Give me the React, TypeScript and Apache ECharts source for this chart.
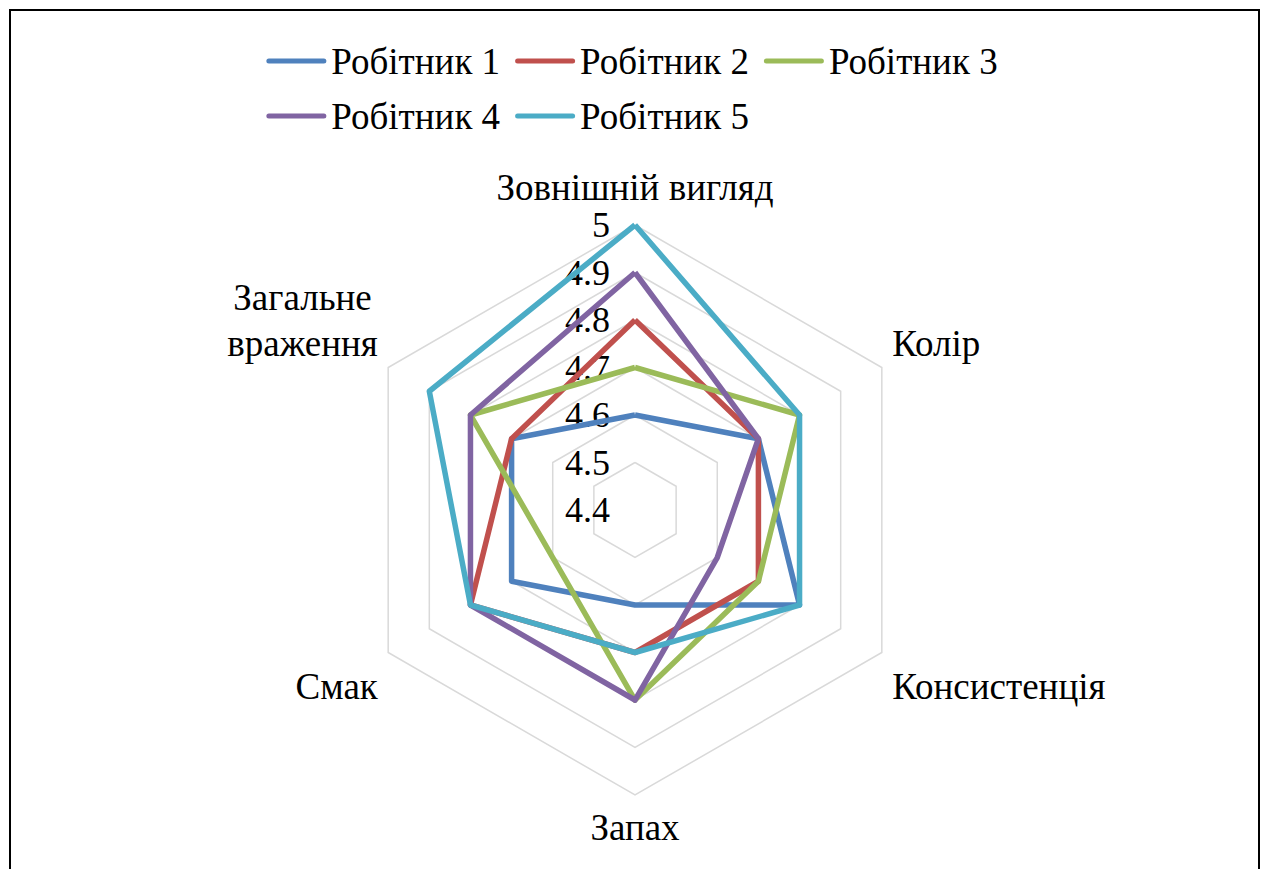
import React, { useEffect, useRef } from "react";
import * as echarts from "echarts";

const categories = [
  "Зовнішній вигляд",
  "Колір",
  "Консистенція",
  "Запах",
  "Смак",
  "Загальне\nвраження",
];
const seriesNames = ["Робітник 1", "Робітник 2", "Робітник 3", "Робітник 4", "Робітник 5"];
const worker1 = [4.6, 4.7, 4.8, 4.6, 4.7, 4.7];
const worker2 = [4.8, 4.7, 4.7, 4.7, 4.8, 4.7];
const worker3 = [4.7, 4.8, 4.7, 4.8, 4.6, 4.8];
const worker4 = [4.9, 4.7, 4.6, 4.8, 4.8, 4.8];
const worker5 = [5.0, 4.8, 4.8, 4.7, 4.8, 4.9];
const tickLabels = ["4.4", "4.5", "4.6", "4.7", "4.8", "4.9", "5"];
const colors = ["#4f81bd", "#c0504d", "#9bbb59", "#8064a2", "#4bacc6"];

const AXIS_MIN = 4.4;
const AXIS_MAX = 5;
const STEP = 0.1;

// label padding (layout only) per category, natural order
const namePad = [
  [0, 0, 7, 0],
  [0, 0, 37, 0],
  [55, 0, 0, 0],
  [2, 0, 0, 0],
  [55, 0, 0, 0],
  [0, 0, 0, 0],
];

export default function App() {
  const ref = useRef<HTMLDivElement>(null);
  useEffect(() => {
    if (!ref.current) return;
    const chart = echarts.init(ref.current, null, { renderer: "svg" });
    // ECharts radar places indicators counter-clockwise; reorder to get clockwise layout
    const order = [0, 5, 4, 3, 2, 1];
    const all = [worker1, worker2, worker3, worker4, worker5];
    const font = "'Liberation Serif', 'Times New Roman', serif";
    const fs = 36;
    const lfs = 37;
    const nfs = 37;
    const rich: Record<string, any> = {
      c: { align: "center", fontSize: nfs, fontFamily: font, color: "#000", lineHeight: 46 },
      sp: { fontSize: 10, fontFamily: font, lineHeight: 83, height: 83 },
    };
    namePad.forEach((p, i) => {
      rich["p" + i] = {
        align: "center",
        fontSize: nfs,
        fontFamily: font,
        color: "#000",
        padding: p,
      };
    });
    chart.setOption({
      animation: false,
      backgroundColor: "#fff",
      color: colors,
      graphic: [
        {
          type: "rect",
          shape: { x: 10, y: 10, width: 1249, height: 900 },
          style: { fill: "none", stroke: "#000", lineWidth: 2 },
          silent: true,
        },
      ],
      legend: {
        data: seriesNames,
        left: "center",
        top: 36,
        width: 800,
        itemWidth: 60,
        itemHeight: 5,
        itemGap: 15,
        icon: "path://M2.5,0 L57.5,0 A2.5,2.5 0 0 1 57.5,5 L2.5,5 A2.5,2.5 0 0 1 2.5,0 Z",
        textStyle: { fontSize: lfs, fontFamily: font, color: "#000", lineHeight: 40 },
      },
      radar: {
        center: [635, 510],
        radius: 285,
        startAngle: 90,
        splitNumber: 6,
        shape: "polygon",
        nameGap: 12,
        indicator: order.map((i) => ({ name: categories[i], min: AXIS_MIN, max: AXIS_MAX })),
        axisName: {
          color: "#000",
          fontFamily: font,
          fontSize: nfs,
          formatter: (name: string) => {
            const idx = categories.indexOf(name);
            const lines = name.split("\n");
            if (lines.length > 1) {
              return lines.map((s) => `{c|${s}}`).join("\n") + "\n{sp| }";
            }
            return `{p${idx}|${name}}`;
          },
          rich,
        },
        splitLine: { lineStyle: { color: "#d9d9d9", width: 1.5 } },
        splitArea: { show: false },
        axisLine: { show: false },
        axisTick: { show: false },
        axisLabel: { show: false },
      },
      polar: { center: [635, 510], radius: 285 },
      angleAxis: { type: "value", min: 0, max: 360, startAngle: 90, show: false },
      radiusAxis: {
        type: "value",
        min: AXIS_MIN,
        max: AXIS_MAX,
        interval: STEP,
        axisLine: { show: false },
        axisTick: { show: false },
        splitLine: { show: false },
        axisLabel: {
          margin: 25,
          fontSize: fs,
          fontFamily: font,
          color: "#000",
          formatter: (v: number) => tickLabels[Math.round((v - AXIS_MIN) / STEP)] ?? "",
        },
      },
      series: [
        {
          type: "radar",
          symbol: "none",
          data: all.map((arr, k) => ({
            name: seriesNames[k],
            value: order.map((i) => arr[i]),
            lineStyle: { color: colors[k], width: 5.5 },
            itemStyle: { color: colors[k] },
          })),
        },
      ],
    });
    return () => chart.dispose();
  }, []);
  return (
    <div
      ref={ref}
      style={{ position: "fixed", left: 0, top: 0, width: 1264, height: 869 }}
    />
  );
}
